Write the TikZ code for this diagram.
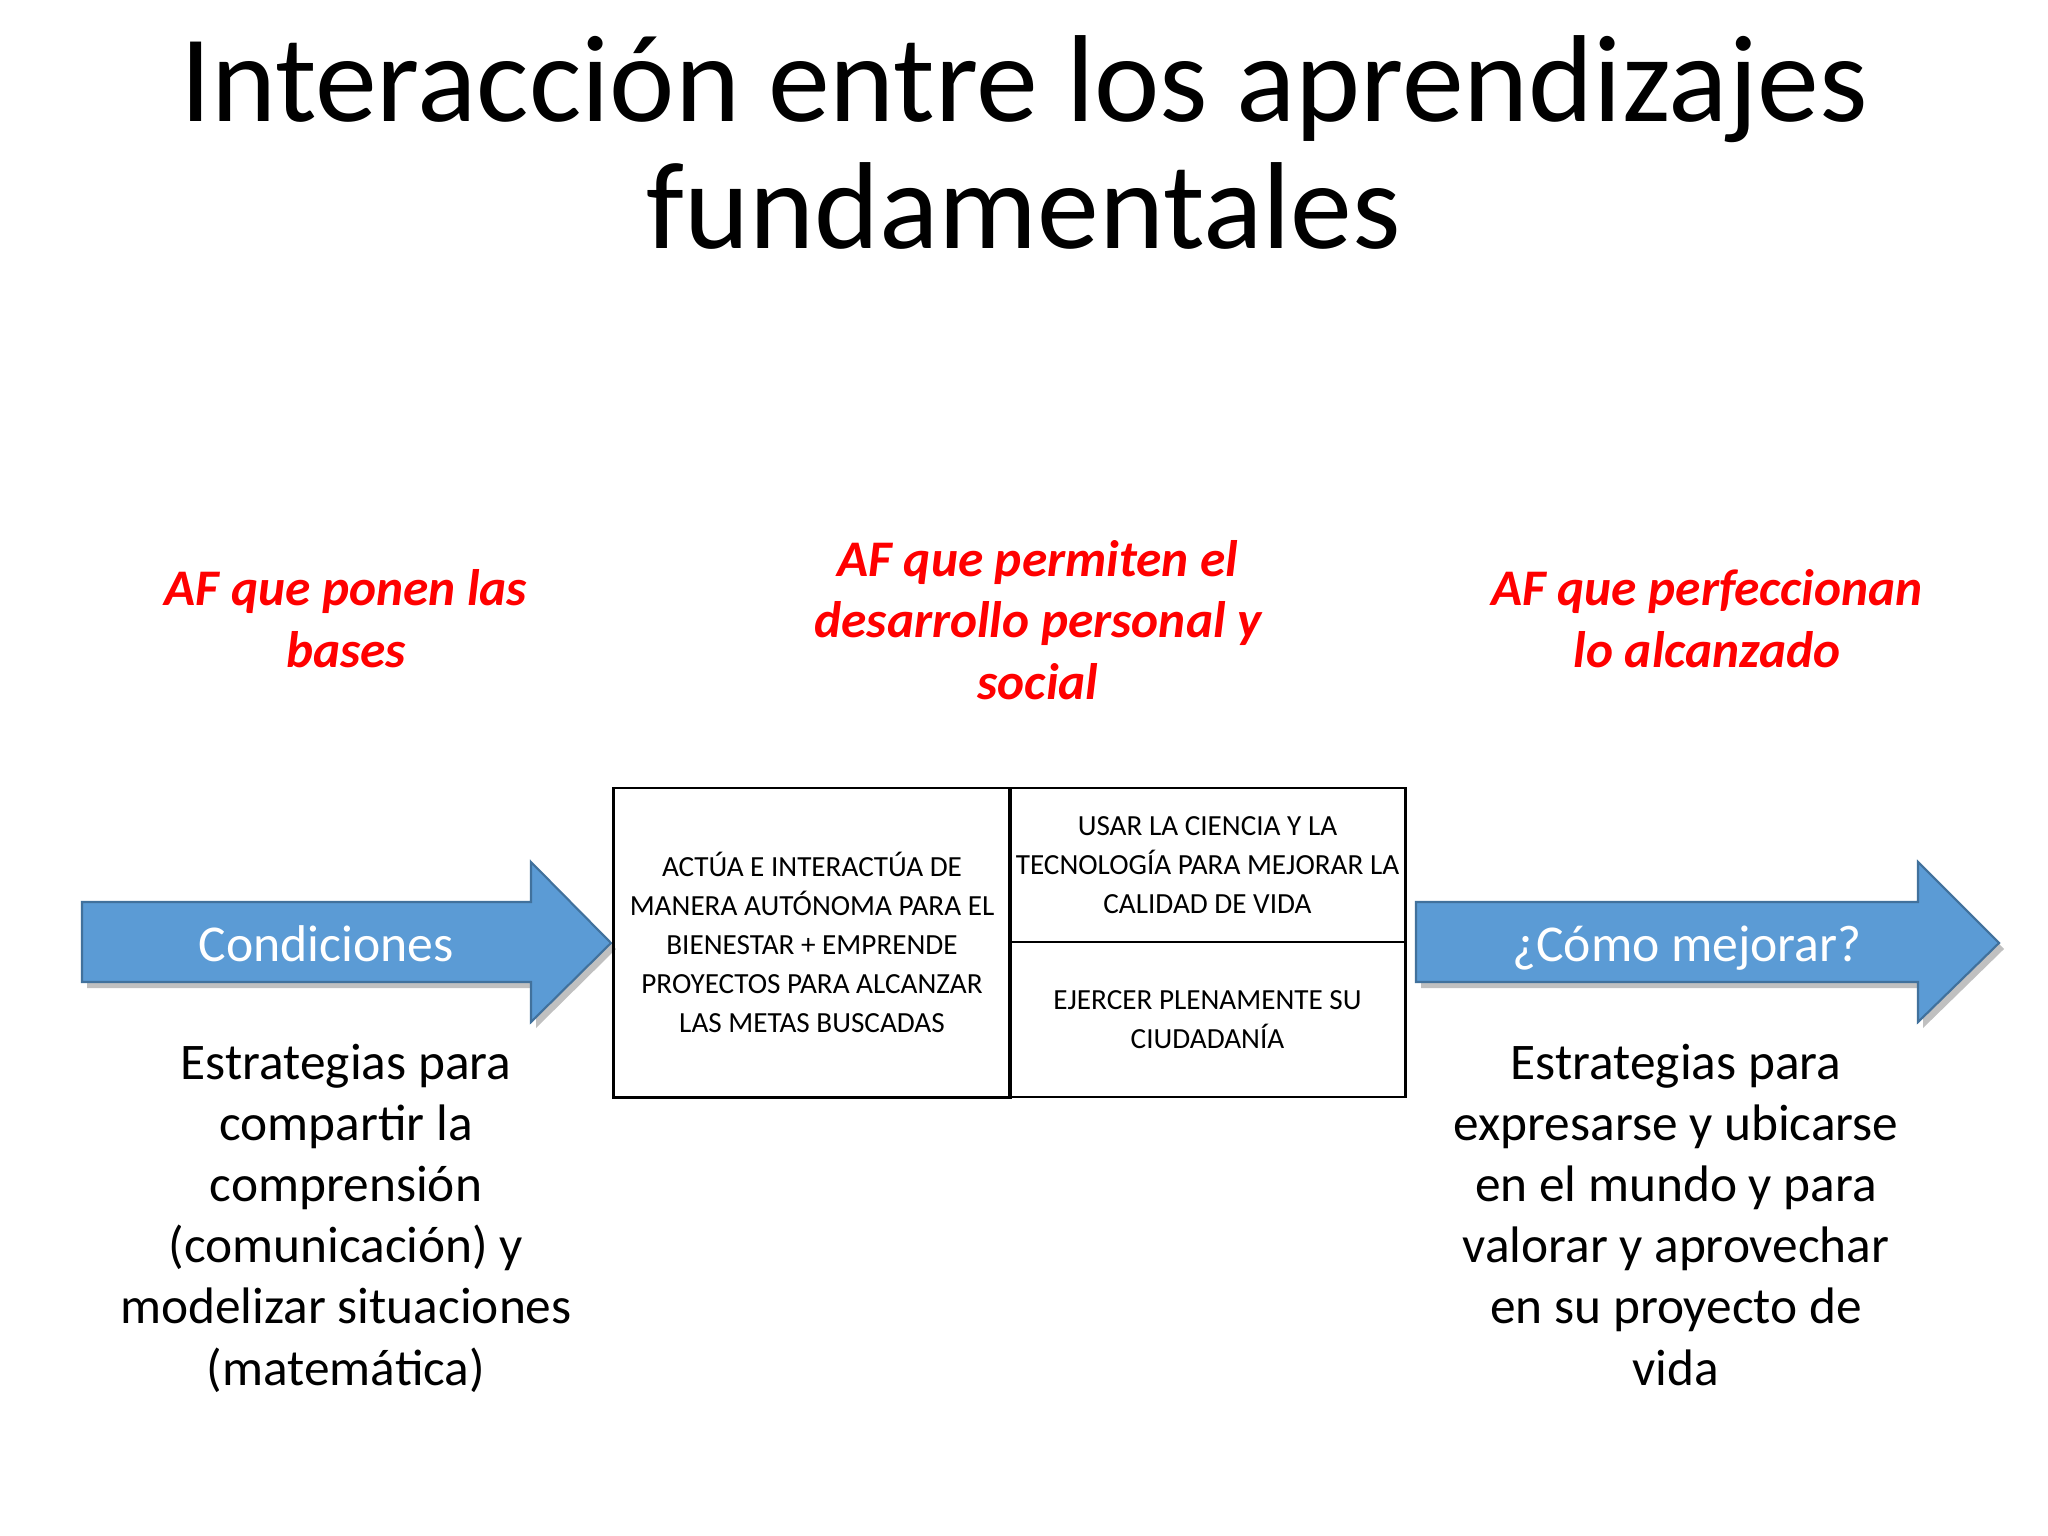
\documentclass[tikz,border=0pt]{standalone}
\usepackage{fontspec}
\setmainfont{Carlito}
\usetikzlibrary{shadows}
\definecolor{arrowblue}{HTML}{5B9BD5}
\definecolor{arrowedge}{HTML}{41719C}
\definecolor{headred}{HTML}{FF0000}
\tikzset{
  bigarrow/.style={fill=arrowblue, draw=arrowedge, line width=0.6pt, line join=miter,
    drop shadow={shadow xshift=0.05cm, shadow yshift=-0.06cm, opacity=0.35, fill=black!70}},
  arrowlabel/.style={anchor=base, text=white, font=\fontsize{14.7}{18}\selectfont},
  redhead/.style={anchor=base, align=center, text=headred, font=\fontsize{14.6}{17.4}\selectfont\bfseries\itshape},
  bodytext/.style={anchor=base, align=center, font=\fontsize{14.6}{17.4}\selectfont},
  cell/.style={draw=black, line width=0.8pt, align=center, inner sep=0pt, font=\fontsize{8.3}{11.1}\selectfont},
}
\begin{document}
\begin{tikzpicture}[x=0.01cm,y=-0.01cm]
\useasboundingbox (0,0) rectangle (2048,1536);
\fill[white] (0,0) rectangle (2048,1536);

% title (anchor=base is the last line's baseline)
\node (title) [anchor=base, align=center, font=\fontsize{35.2}{36.1}\selectfont] at (1024,248)
  {Interacción entre los aprendizajes\\fundamentales};

% red headings
\node (h1) [redhead] at (346,667) {AF que ponen las\\bases};
\node (h2) [redhead] at (1038,699) {AF que permiten el\\desarrollo personal y\\social};
\node (h3) [redhead] at (1707,667) {AF que perfeccionan\\lo alcanzado};

% left arrow
\path[bigarrow] (82,902) -- (531,902) -- (531,862) -- (611,943) -- (531,1022) -- (531,982) -- (82,982) -- cycle;
\node (a1) [arrowlabel] at (326,961) {Condiciones};

% right arrow
\path[bigarrow] (1416,902) -- (1918,902) -- (1918,862) -- (1999,943) -- (1918,1022) -- (1918,982) -- (1416,982) -- cycle;
\node (a2) [arrowlabel] at (1687,961) {¿Cómo mejorar?};

% table
\node (c1) [cell, minimum width=3.96cm, minimum height=3.09cm] at (812,942.5)
  {ACTÚA E INTERACTÚA DE\\MANERA AUTÓNOMA PARA EL\\BIENESTAR + EMPRENDE\\PROYECTOS PARA ALCANZAR\\LAS METAS BUSCADAS};
\node (c2) [cell, minimum width=3.95cm, minimum height=1.54cm] at (1207.5,865)
  {USAR LA CIENCIA Y LA\\TECNOLOGÍA PARA MEJORAR LA\\CALIDAD DE VIDA};
\node (c3) [cell, minimum width=3.95cm, minimum height=1.55cm] at (1207.5,1019.5)
  {EJERCER PLENAMENTE SU\\CIUDADANÍA};

% body texts
\node (b1) [bodytext] at (346,1385) {Estrategias para\\compartir la\\comprensión\\(comunicación) y\\modelizar situaciones\\(matemática)};
\node (b2) [bodytext] at (1676,1385) {Estrategias para\\expresarse y ubicarse\\en el mundo y para\\valorar y aprovechar\\en su proyecto de\\vida};
\end{tikzpicture}
\end{document}
